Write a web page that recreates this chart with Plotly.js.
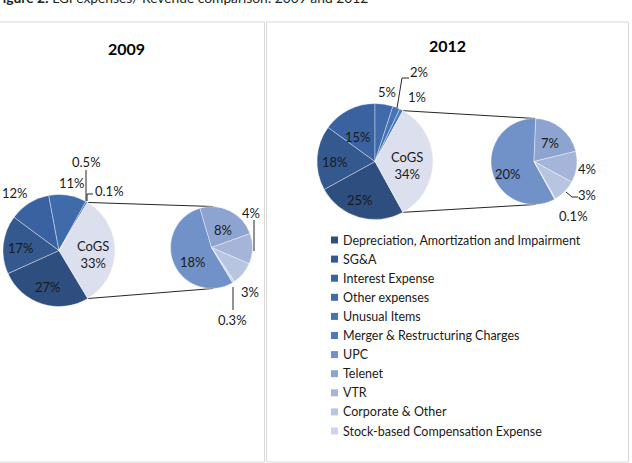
<!DOCTYPE html>
<html>
<head>
<meta charset="utf-8">
<script src="https://cdn.plot.ly/plotly-3.0.1.min.js"></script>
<style>
  html, body { margin: 0; padding: 0; background: #ffffff; }
  #chart { width: 632px; height: 463px; }
</style>
</head>
<body>
<div id="chart"></div>
<script>
// ---------------- DATA ----------------
const categories = [
  'Depreciation, Amortization and Impairment',
  'SG&A',
  'Interest Expense',
  'Other expenses',
  'Unusual Items',
  'Merger & Restructuring Charges',
  'UPC',
  'Telenet',
  'VTR',
  'Corporate & Other',
  'Stock-based Compensation Expense'
];
const mainCategories = categories.slice(0, 6);
const splitCategories = categories.slice(6);
const aggregateLabel = 'CoGS';

const main2009 = [27, 17, 12, 11, 0.5, 0.1];
const cogs2009 = 33;
const split2009 = [18, 8, 4, 3, 0.3];

const main2012 = [25, 18, 15, 5, 2, 1];
const cogs2012 = 34;
const split2012 = [20, 7, 4, 3, 0.1];

const yearTitles = ['2009', '2012'];
const figureHeading = '<b>Figure 2:</b> LGI expenses/ Revenue comparison: 2009 and 2012';

// ---------------- STYLE / LAYOUT ----------------
const W = 632, H = 463;
const seriesColors = ['#2D4E7E', '#34598F', '#3A62A0', '#3F6BAA', '#4573B5', '#4A7BBF',
                      '#7092C8', '#8DA4D0', '#A5B5DA', '#B8C5E1', '#CCD5EA'];
const aggregateColor = '#DCE0EE';
const FONT = 'Lato, Carlito, Calibri, "Liberation Sans", sans-serif';
const LABEL_SIZE = 13, LEGEND_SIZE = 12.5;

// pie geometry in pixels (centre x, centre y, radius)
const geo = {
  m2009: {cx: 59, cy: 250.5, r: 56},
  s2009: {cx: 211.5, cy: 247.5, r: 41},
  m2012: {cx: 375, cy: 161.5, r: 58},
  s2012: {cx: 534, cy: 161.5, r: 43}
};
// label positions (px) in slice order
const labelPos = {
  m2009: [[48, 287], [21, 248], [15, 193], [72, 183], [86, 162], [109, 191], [93, 254]],
  s2009: [[193, 262], [223, 230], [251, 213], [250, 292], [232, 320]],
  m2012: [[360, 200], [335, 162], [358, 137], [387, 92], [419, 72], [417, 97], [407, 165]],
  s2012: [[508, 174], [550, 143], [587, 169], [587, 195], [573, 216]]
};
const leaderLines = [
  [[86, 170], [86, 201]],
  [[87, 201], [87, 194], [93, 194]],
  [[254, 220], [254, 251]],
  [[233, 287], [233, 310]],
  [[397, 108], [402, 78], [409, 78]],
  [[566, 192], [572, 197], [578, 197]]
];
const titlePos = [[126, 49], [447, 45]];
const legendRow0 = 240, legendStep = 19.1, legendSwatchX = 331, legendTextX = 341;

// ---------------- HELPERS ----------------
const px = x => x / W;
const py = y => 1 - y / H;
function domain(g) {
  return {x: [px(g.cx - g.r), px(g.cx + g.r)], y: [py(g.cy + g.r), py(g.cy - g.r)]};
}
function pathOf(points) {
  return 'M' + points.map(p => px(p[0]) + ',' + py(p[1])).join(' L');
}
const sum = a => a.reduce((s, v) => s + v, 0);
const pct = v => v + '%';

function mainRotation(main, cogs) {
  const total = sum(main) + cogs;
  const cogsAngle = cogs / total * 360;
  return 90 + cogsAngle / 2;   // aggregate slice centred at 3 o'clock
}

const traces = [];
const annotations = [];
const shapes = [];

function label(x, y, text) {
  annotations.push({xref: 'paper', yref: 'paper', x: px(x), y: py(y),
    text: text, showarrow: false, xanchor: 'center', yanchor: 'middle',
    font: {family: FONT, size: LABEL_SIZE, color: '#1A1A1A'}});
}

function addYear(main, cogs, split, gm, gs, posM, posS) {
  const rot = mainRotation(main, cogs);
  const total = sum(main) + cogs;
  const cogsAngle = cogs / total * 360;
  traces.push({
    type: 'pie', sort: false, direction: 'clockwise', rotation: rot,
    labels: mainCategories.concat([aggregateLabel]),
    values: main.concat([cogs]),
    marker: {colors: seriesColors.slice(0, 6).concat([aggregateColor]),
             line: {color: 'rgba(255,255,255,0.55)', width: 0.7}},
    textinfo: 'none', hoverinfo: 'none', showlegend: false,
    domain: domain(gm)
  });
  traces.push({
    type: 'pie', sort: false, direction: 'clockwise', rotation: rot,
    labels: splitCategories,
    values: split,
    marker: {colors: seriesColors.slice(6),
             line: {color: 'rgba(255,255,255,0.55)', width: 0.7}},
    textinfo: 'none', hoverinfo: 'none', showlegend: false,
    domain: domain(gs)
  });
  main.forEach((v, i) => label(posM[i][0], posM[i][1], pct(v)));
  const c = posM[posM.length - 1];
  label(c[0], c[1], aggregateLabel + '<br>' + pct(cogs));
  split.forEach((v, i) => label(posS[i][0], posS[i][1], pct(v)));
  // connector lines between the aggregate slice and the secondary pie
  const a1 = (rot - cogsAngle) * Math.PI / 180, a2 = rot * Math.PI / 180;
  const p1 = [gm.cx + gm.r * Math.sin(a1), gm.cy - gm.r * Math.cos(a1)];
  const p2 = [gm.cx + gm.r * Math.sin(a2), gm.cy - gm.r * Math.cos(a2)];
  shapes.push({type: 'path', xref: 'paper', yref: 'paper', layer: 'below',
    path: pathOf([p1, [gs.cx + 1.5, gs.cy - gs.r]]), line: {color: '#262626', width: 1}});
  shapes.push({type: 'path', xref: 'paper', yref: 'paper', layer: 'below',
    path: pathOf([p2, [gs.cx + 1.5, gs.cy + gs.r]]), line: {color: '#262626', width: 1}});
}

addYear(main2009, cogs2009, split2009, geo.m2009, geo.s2009, labelPos.m2009, labelPos.s2009);
addYear(main2012, cogs2012, split2012, geo.m2012, geo.s2012, labelPos.m2012, labelPos.s2012);

leaderLines.forEach(l => shapes.push({type: 'path', xref: 'paper', yref: 'paper',
  path: pathOf(l), line: {color: '#262626', width: 1}}));

// panel frames
[[-1, 22, 264.5, 462], [266.5, 22, 628.5, 462]].forEach(r => shapes.push({
  type: 'rect', xref: 'paper', yref: 'paper', layer: 'below',
  x0: px(r[0]), x1: px(r[2]), y0: py(r[3]), y1: py(r[1]),
  line: {color: '#D9D9D9', width: 1}}));

// panel titles
yearTitles.forEach((t, i) => annotations.push({xref: 'paper', yref: 'paper',
  x: px(titlePos[i][0]), y: py(titlePos[i][1]), text: '<b>' + t + '</b>', showarrow: false,
  xanchor: 'center', yanchor: 'middle', font: {family: FONT, size: 16, color: '#000000'}}));

// figure heading (cropped at the top edge, as in the reference)
annotations.push({xref: 'paper', yref: 'paper', x: px(-7), y: py(-2), text: figureHeading,
  showarrow: false, xanchor: 'left', yanchor: 'middle',
  font: {family: FONT, size: 13.8, color: '#222222'}});

// legend
categories.forEach((name, i) => {
  const yc = legendRow0 + i * legendStep;
  shapes.push({type: 'rect', xref: 'paper', yref: 'paper',
    x0: px(legendSwatchX), x1: px(legendSwatchX + 7), y0: py(yc + 3.5), y1: py(yc - 3.5),
    fillcolor: seriesColors[i], line: {width: 0}});
  annotations.push({xref: 'paper', yref: 'paper', x: px(legendTextX), y: py(yc), text: name,
    showarrow: false, xanchor: 'left', yanchor: 'middle',
    font: {family: FONT, size: LEGEND_SIZE, color: '#1A1A1A'}});
});

const layout = {
  width: W, height: H,
  margin: {l: 0, r: 0, t: 0, b: 0},
  paper_bgcolor: '#ffffff',
  plot_bgcolor: '#ffffff',
  showlegend: false,
  annotations: annotations,
  shapes: shapes
};

Plotly.newPlot('chart', traces, layout, {staticPlot: true, displayModeBar: false});
</script>
</body>
</html>
